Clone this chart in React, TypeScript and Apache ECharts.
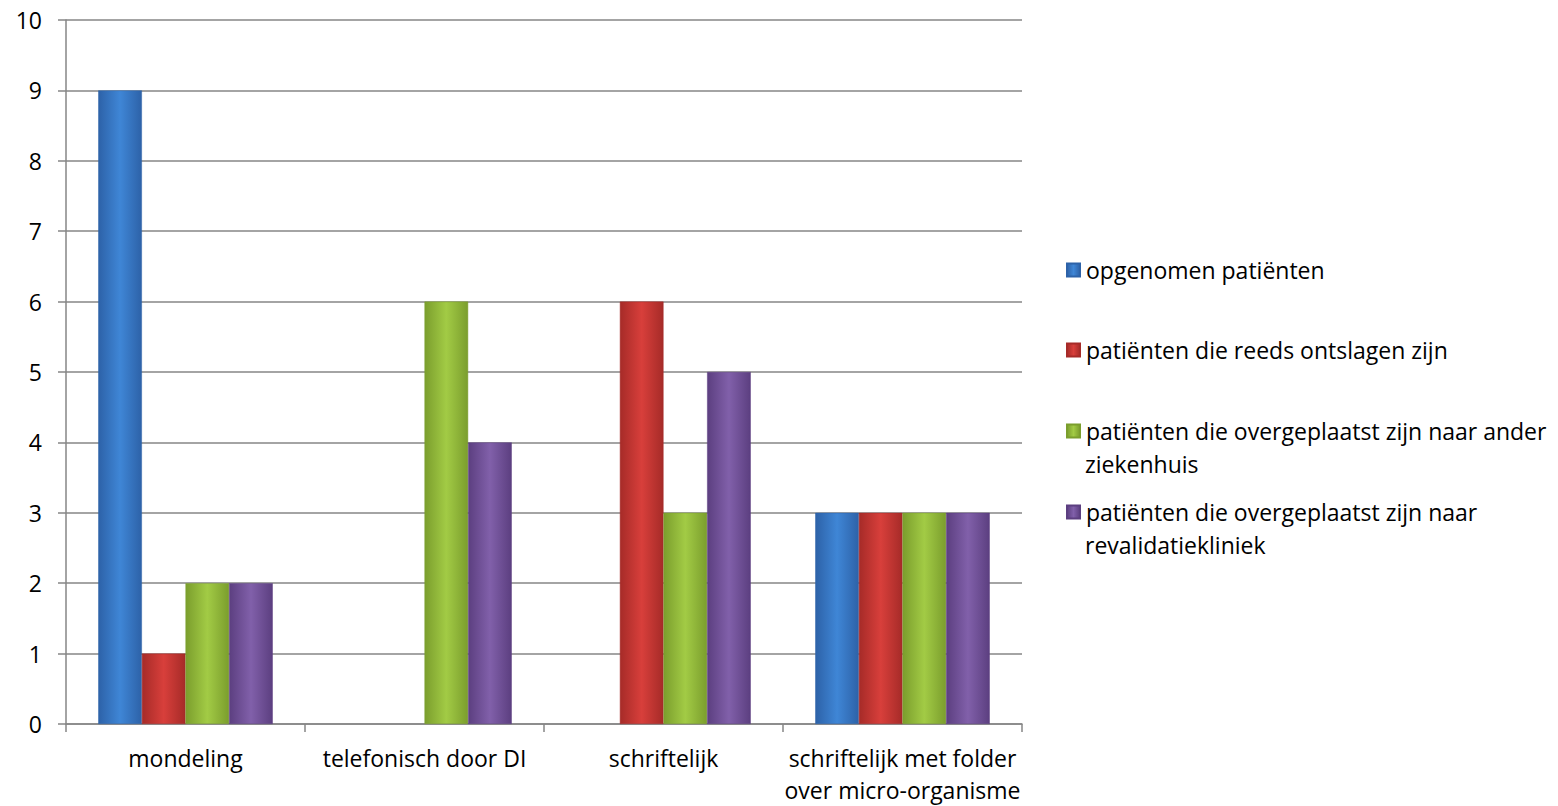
import React, { useEffect, useRef } from "react";
import * as echarts from "echarts";

const categories = ["mondeling", "telefonisch door DI", "schriftelijk", "schriftelijk met folder\nover micro-organisme"];
const seriesNames = [
  "opgenomen patiënten",
  "patiënten die reeds ontslagen zijn",
  "patiënten die overgeplaatst zijn naar ander ziekenhuis",
  "patiënten die overgeplaatst zijn naar revalidatiekliniek",
];
const legendFirstLines = [
  "opgenomen patiënten",
  "patiënten die reeds ontslagen zijn",
  "patiënten die overgeplaatst zijn naar ander",
  "patiënten die overgeplaatst zijn naar",
];
const legendSecondLines = ["", "", "ziekenhuis", "revalidatiekliniek"];
const opgenomen = [9, 0, 0, 3];
const ontslagen = [1, 0, 6, 3];
const anderZiekenhuis = [2, 6, 3, 3];
const revalidatie = [2, 4, 5, 3];
const yTicks = [0, 1, 2, 3, 4, 5, 6, 7, 8, 9, 10];

const seriesData = [opgenomen, ontslagen, anderZiekenhuis, revalidatie];
const colorSets = [
  ["#2D62A8", "#3F86D6", "#2D62A8"],
  ["#A62B28", "#D83F3B", "#A62B28"],
  ["#7B9E2D", "#A2CB45", "#7B9E2D"],
  ["#5C3F80", "#8160AA", "#5C3F80"],
];
const legendColors = ["#3A7BCB", "#CB3834", "#96BE3D", "#7A58A2"];
const legendTops = [250, 330, 411, 492];

const FONT = "'Open Sans', sans-serif";
const FS = 23;

export default function App() {
  const ref = useRef<HTMLDivElement>(null);
  useEffect(() => {
    const chart = echarts.init(ref.current!, undefined, { renderer: "svg" });
    const grad = (c: string[]) =>
      new echarts.graphic.LinearGradient(0, 0, 1, 0, [
        { offset: 0, color: c[0] },
        { offset: 0.5, color: c[1] },
        { offset: 1, color: c[2] },
      ]);
    chart.setOption({
      animation: false,
      textStyle: { fontFamily: FONT },
      grid: { left: 66, right: 536, top: 20, bottom: 78, containLabel: false },
      legend: seriesNames.map((n, i) => ({
        data: [n],
        orient: "vertical",
        left: 1061,
        top: legendTops[i],
        itemWidth: 13,
        itemHeight: 13,
        icon: "rect",
        itemGap: 0,
        selectedMode: false,
        formatter: () => legendFirstLines[i],
        textStyle: { fontFamily: FONT, fontSize: FS, color: "#000", lineHeight: 30, padding: [0, 0, 0, 1] },
      })),
      graphic: legendSecondLines
        .map((t, i) => ({ t, i }))
        .filter((o) => o.t)
        .map((o) => ({
          type: "text",
          left: 1085,
          top: legendTops[o.i] + 38,
          style: { text: o.t, fontFamily: FONT, fontSize: FS, lineHeight: 30, fill: "#000" },
        })),
      xAxis: {
        type: "category",
        data: categories,
        axisLine: { lineStyle: { color: "#868686", width: 1.5 } },
        axisTick: { show: true, length: 8, lineStyle: { color: "#868686", width: 1.5 } },
        axisLabel: { interval: 0, fontFamily: FONT, fontSize: FS, color: "#000", margin: 18, lineHeight: 32 },
      },
      yAxis: {
        type: "value",
        min: 0,
        max: 10,
        interval: 1,
        axisLine: { show: true, lineStyle: { color: "#868686", width: 1.5 } },
        axisTick: { show: true, length: 8, inside: false, lineStyle: { color: "#868686", width: 1.5 } },
        splitLine: { lineStyle: { color: "#868686", width: 1.5 } },
        axisLabel: {
          fontFamily: FONT,
          fontSize: FS,
          color: "#000",
          margin: 24,
          formatter: (v: number) => (yTicks.includes(v) ? String(v) : ""),
        },
      },
      series: seriesData.map((d, i) => ({
        name: seriesNames[i],
        type: "bar",
        data: d.map((v) => (v === 0 ? null : v)),
        barGap: "0%",
        barCategoryGap: "27%",
        color: legendColors[i],
        itemStyle: {
          color: grad(colorSets[i]),
          borderColor: colorSets[i][0],
          borderWidth: 0.5,
        },
      })),
    });
    return () => chart.dispose();
  }, []);
  return <div ref={ref} style={{ position: "absolute", left: 0, top: 0, width: 1558, height: 806 }} />;
}
